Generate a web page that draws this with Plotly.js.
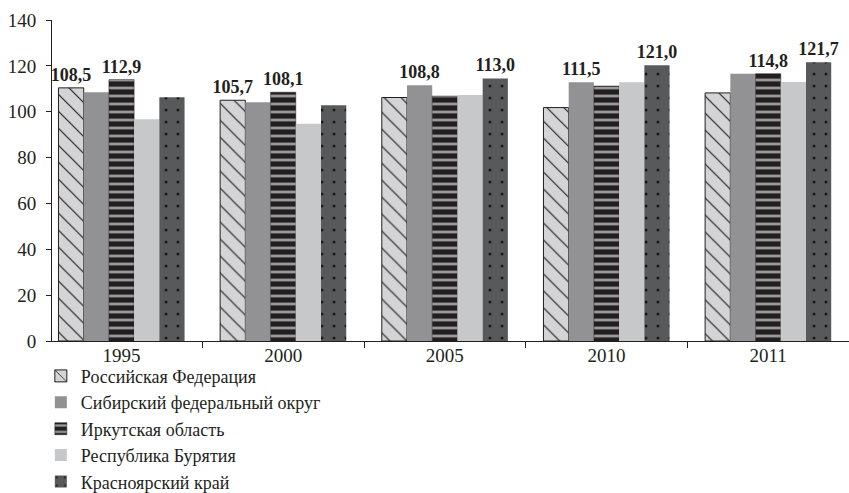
<!DOCTYPE html>
<html>
<head>
<meta charset="utf-8">
<script src="https://cdn.plot.ly/plotly-3.0.1.min.js"></script>
<style>html,body{margin:0;padding:0;background:#fff;}#chart{width:849px;height:493px;}</style>
</head>
<body>
<div id="chart"></div>
<script>
// ---- data ----
const years = ['1995', '2000', '2005', '2010', '2011'];
const seriesNames = ['Российская Федерация', 'Сибирский федеральный округ', 'Иркутская область', 'Республика Бурятия', 'Красноярский край'];
const russia      = [110.4, 105.0, 106.2, 101.8, 108.2];
const siberia     = [108.5, 104.1, 111.5, 112.9, 116.6];
const irkutsk     = [114.0, 108.5, 106.8, 111.2, 116.6];
const buryatia    = [96.7, 94.7, 107.3, 112.9, 113.0];
const krasnoyarsk = [106.3, 102.8, 114.5, 120.3, 121.6];
const russiaLabels      = ['108,5', '105,7', '', '', ''];
const siberiaLabels     = ['', '', '108,8', '111,5', ''];
const irkutskLabels     = ['112,9', '108,1', '', '', '114,8'];
const buryatiaLabels    = ['', '', '', '', ''];
const krasnoyarskLabels = ['', '', '113,0', '121,0', '121,7'];
const yTicks = [0, 20, 40, 60, 80, 100, 120, 140];

// ---- styles ----
const ink = '#231f20';
const serif = 'Liberation Serif, Times New Roman, serif';
const barW = 0.156;
const startOff = -0.39;
const labelFont = {family: serif, size: 18, color: ink, weight: 'bold'};

const styles = [
  {color: '#d4d4d6', line: {color: ink, width: 1}, pattern: {shape: '\\', fgcolor: ink, bgcolor: '#d4d4d6', size: 12, solidity: 0.1, fillmode: 'replace'}},
  {color: '#929295', line: {color: '#929295', width: 0}},
  {color: '#231f20', line: {color: ink, width: 0.5}, pattern: {shape: '-', fgcolor: '#9a9a9a', bgcolor: '#231f20', size: 8, solidity: 0.35, fillmode: 'replace'}},
  {color: '#c7c8ca', line: {color: '#c7c8ca', width: 0}},
  {color: '#58595b', line: {color: '#58595b', width: 0}, pattern: {shape: '.', fgcolor: '#1a1a1a', bgcolor: '#58595b', size: 12, solidity: 0.05, fillmode: 'replace'}}
];
const values = [russia, siberia, irkutsk, buryatia, krasnoyarsk];
const labels = [russiaLabels, siberiaLabels, irkutskLabels, buryatiaLabels, krasnoyarskLabels];

const traces = values.map((v, i) => ({
  type: 'bar',
  name: seriesNames[i],
  x: years,
  y: v,
  width: barW,
  offset: startOff + i * barW,
  text: labels[i],
  textposition: 'outside',
  constraintext: 'none',
  cliponaxis: false,
  textfont: labelFont,
  marker: styles[i],
  hoverinfo: 'skip'
}));

const layout = {
  width: 849, height: 493,
  margin: {l: 52, r: 0, t: 20, b: 152, autoexpand: false},
  paper_bgcolor: '#fff', plot_bgcolor: '#fff',
  barmode: 'overlay',
  showlegend: true,
  font: {family: serif, color: ink, size: 19},
  xaxis: {
    type: 'category',
    range: [-0.43, 4.5],
    showline: true, linecolor: ink, linewidth: 1,
    ticks: 'outside', tickson: 'boundaries', ticklen: 6, tickcolor: ink,
    ticklabelstandoff: -3,
    showgrid: false, zeroline: false,
    tickfont: {family: serif, size: 19, color: ink}
  },
  yaxis: {
    range: [0, 140],
    tickvals: yTicks,
    ticktext: yTicks.map(String),
    showline: true, linecolor: ink, linewidth: 1,
    ticks: 'outside', ticklen: 5, tickcolor: ink,
    ticklabelstandoff: 6,
    showgrid: false, zeroline: false,
    tickfont: {family: serif, size: 19, color: ink}
  },
  legend: {
    orientation: 'v',
    x: -0.014, xanchor: 'left',
    y: -0.052, yanchor: 'top',
    font: {family: serif, size: 18, color: ink},
    bgcolor: 'rgba(0,0,0,0)',
    tracegroupgap: 0,
    traceorder: 'normal'
  }
};

Plotly.newPlot('chart', traces, layout, {staticPlot: true, displayModeBar: false});
</script>
</body>
</html>
